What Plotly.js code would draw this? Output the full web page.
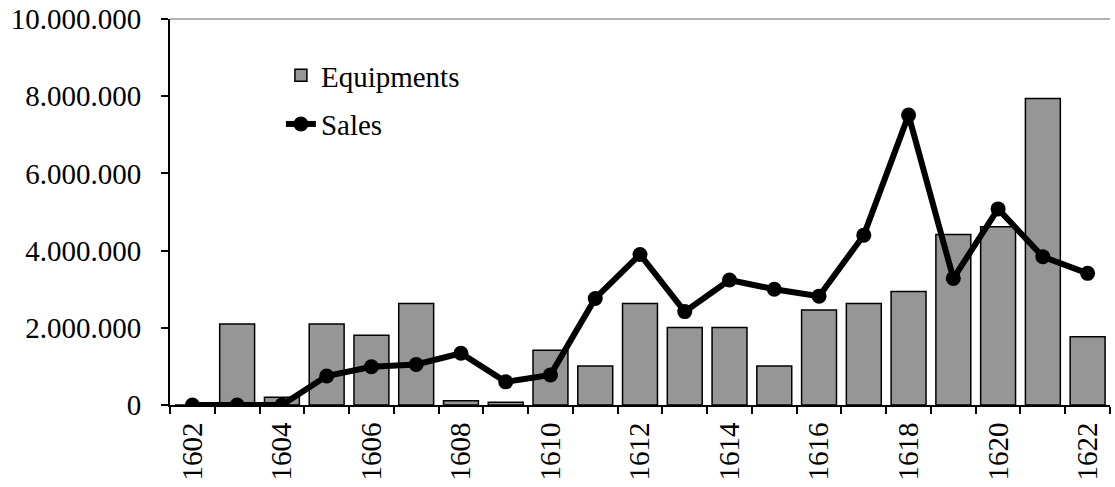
<!DOCTYPE html>
<html>
<head>
<meta charset="utf-8">
<script src="https://cdn.plot.ly/plotly-3.0.1.min.js"></script>
<style>html,body{margin:0;padding:0;background:#fff;}#chart{width:1115px;height:487px;}</style>
</head>
<body>
<div id="chart"></div>
<script>
const years = [1602,1603,1604,1605,1606,1607,1608,1609,1610,1611,1612,1613,1614,1615,1616,1617,1618,1619,1620,1621,1622];
const equipments = [0,2100000,200000,2100000,1810000,2630000,110000,70000,1420000,1010000,2630000,2010000,2010000,1010000,2460000,2630000,2940000,4420000,4620000,7940000,1770000];
const sales = [0,0,0,750000,990000,1050000,1340000,600000,780000,2760000,3900000,2420000,3240000,3000000,2820000,4400000,7510000,3280000,5080000,3840000,3410000];
const xTicks = [1602,1604,1606,1608,1610,1612,1614,1616,1618,1620,1622];
const yTicks = [0,2000000,4000000,6000000,8000000,10000000];

const font = {family: 'Liberation Serif, Times New Roman, serif', size: 29, color: '#000'};

const data = [
  {type:'bar', name:'Equipments', legendgroup:'a', x: years, y: equipments,
   marker:{color:'#969696', line:{color:'#000', width:1.5}}},
  {type:'scatter', mode:'lines+markers', name:'Sales', legendgroup:'b', x: years, y: sales,
   line:{color:'#000', width:6}, marker:{color:'#000', size:15}}
];

const layout = {
  width:1115, height:487,
  margin:{l:170, r:5, t:19, b:82},
  paper_bgcolor:'#fff', plot_bgcolor:'#fff',
  separators: ',.',
  font: font,
  showlegend:true,
  bargap:0.22,
  legend:{x:0.118, y:0.92, xanchor:'left', yanchor:'top', bgcolor:'rgba(0,0,0,0)', font:font,
    traceorder:'grouped', tracegroupgap:8, itemwidth:30},
  xaxis:{type:'linear', range:[1601.5,1622.5], tickmode:'array', tickvals:xTicks, ticktext:xTicks.map(String),
    tickangle:-90, ticks:'', ticklabelstandoff:4, showgrid:false, zeroline:false, showline:true, linecolor:'#000', linewidth:2,
    tickfont:font, fixedrange:true,
    minor:{tick0:1601.5, dtick:1, ticks:'outside', ticklen:7, tickwidth:2, tickcolor:'#000', showgrid:false}},
  yaxis:{range:[0,10000000], tickmode:'array', tickvals:yTicks, tickformat:',d',
    ticks:'outside', ticklen:7, tickwidth:2, tickcolor:'#000', ticklabelstandoff:14, showgrid:false, zeroline:false,
    showline:true, linecolor:'#000', linewidth:2, tickfont:font, fixedrange:true},
  shapes:[{type:'line', xref:'paper', yref:'paper', x0:0, x1:1, y0:1, y1:1, line:{color:'#999', width:1.5}}]
};

Plotly.newPlot('chart', data, layout, {displayModeBar:false, staticPlot:true});
</script>
</body>
</html>
